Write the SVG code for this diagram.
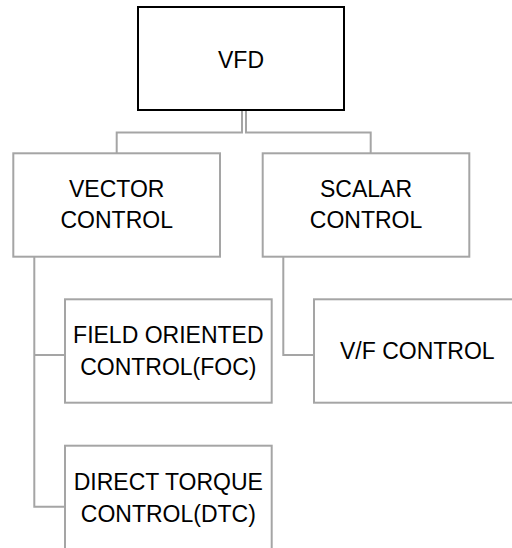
<svg xmlns="http://www.w3.org/2000/svg" width="512" height="548" viewBox="0 0 512 548">
<style>
.box{fill:#fff;stroke:#a5a5a5;stroke-width:2}
.root{fill:#fff;stroke:#000;stroke-width:2}
.conn{fill:none;stroke:#a5a5a5;stroke-width:2}
text{font-family:"Liberation Sans",Arial,sans-serif;font-size:23px;fill:#000;text-anchor:middle}
</style>
<rect width="512" height="548" fill="#fff"/>
<g id="connectors">
<path class="conn" d="M242,110 V132.5 H116.7 V153.3"/>
<path class="conn" d="M246,110 V132.5 H370.7 V153.3"/>
<path class="conn" d="M34.3,256.7 V506.7 H65"/>
<path class="conn" d="M34.3,355 H65"/>
<path class="conn" d="M283.3,256.7 V355 H314"/>
</g>
<g id="vfd">
<rect class="root" x="138" y="7" width="206" height="103"/>
<text x="241" y="67.7">VFD</text>
</g>
<g id="vector">
<rect class="box" x="13.3" y="153.3" width="206.7" height="103.4"/>
<text x="116.7" y="196.7">VECTOR</text>
<text x="116.7" y="228.3">CONTROL</text>
</g>
<g id="scalar">
<rect class="box" x="262.7" y="153.3" width="206.6" height="103.4"/>
<text x="366" y="196.7">SCALAR</text>
<text x="366" y="228.3">CONTROL</text>
</g>
<g id="foc">
<rect class="box" x="65" y="299.3" width="206.7" height="103.4"/>
<text x="168.3" y="342.7">FIELD ORIENTED</text>
<text x="168.3" y="375">CONTROL(FOC)</text>
</g>
<g id="dtc">
<rect class="box" x="65" y="445.7" width="206.7" height="104"/>
<text x="168.3" y="490">DIRECT TORQUE</text>
<text x="168.3" y="521.7">CONTROL(DTC)</text>
</g>
<g id="vf">
<rect class="box" x="314" y="299.3" width="206.7" height="103.4"/>
<text x="417.3" y="359">V/F CONTROL</text>
</g>
</svg>
